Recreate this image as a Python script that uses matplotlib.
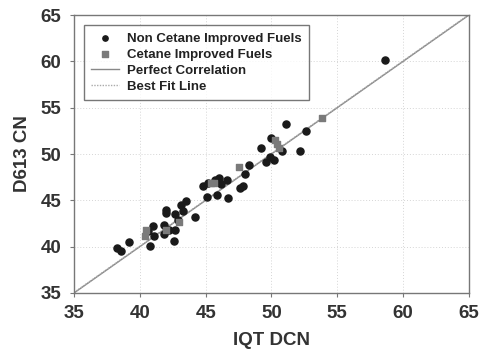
import numpy as np
import matplotlib.pyplot as plt

# IQT DCN vs D613 CN
non_ci_x = [58.6, 51.1, 52.6, 52.2, 50.0, 49.2, 49.6, 49.9, 50.2, 50.8, 48.3, 48.0,
            47.8, 47.6, 46.0, 46.6, 46.2, 44.8, 45.1, 45.9, 46.7, 43.5, 43.1, 43.3,
            42.0, 42.0, 42.7, 42.9, 44.2, 41.8, 42.2, 42.7, 41.8, 41.0, 41.1, 40.8,
            42.6, 39.2, 38.3, 38.6, 40.6, 45.2, 45.7]
non_ci_y = [60.1, 53.2, 52.5, 50.3, 51.7, 50.7, 49.1, 49.7, 49.3, 50.3, 48.8, 47.8,
            46.6, 46.3, 47.4, 47.2, 46.8, 46.6, 45.4, 45.6, 45.2, 44.9, 44.5, 43.8,
            44.0, 43.6, 43.5, 42.9, 43.2, 42.3, 41.8, 41.8, 41.4, 42.2, 41.1, 40.1,
            40.6, 40.5, 39.9, 39.5, 41.7, 46.9, 47.2]

ci_x = [53.8, 47.5, 50.4, 50.6, 50.3, 45.6, 45.4, 40.4, 40.5, 43.0, 42.0]
ci_y = [53.9, 48.6, 51.1, 50.6, 51.5, 46.9, 46.9, 41.2, 41.8, 42.7, 41.8]

axis_range = [35, 65]
fit_slope = 1.0
fit_intercept = 0.05

plt.rc('font', family='Liberation Sans', weight='bold')
fig = plt.figure(figsize=(4.81, 3.61), dpi=100)
ax = fig.add_axes([0.1538, 0.1884, 0.8212, 0.7700])

ax.grid(True, color='#d5d5d5', linestyle=(0, (1, 2)), linewidth=0.7)
ax.set_axisbelow(True)

xl = np.array(axis_range, dtype=float)
ax.plot(xl, xl, color='#888888', linewidth=1.0, label='Perfect Correlation', zorder=2)
ax.plot(xl, fit_slope * xl + fit_intercept, color='#aaaaaa', linewidth=1.0,
        linestyle=(0, (1, 1)), label='Best Fit Line', zorder=2)

ax.scatter(non_ci_x, non_ci_y, s=26, marker='o', color='#1a1a1a',
           label='Non Cetane Improved Fuels', zorder=3)
ax.scatter(ci_x, ci_y, s=24, marker='s', color='#7a7a7a',
           label='Cetane Improved Fuels', zorder=4)

ax.set_xlim(axis_range)
ax.set_ylim(axis_range)
ax.set_xticks(range(35, 66, 5))
ax.set_yticks(range(35, 66, 5))
ax.tick_params(direction='out', length=3, color='#777777', labelsize=13.5,
               labelcolor='#333333', pad=6)
for s in ax.spines.values():
    s.set_color('#777777')
    s.set_linewidth(1.0)

ax.set_xlabel('IQT DCN', fontsize=13.5, fontweight='bold', color='#333333', labelpad=7)
ax.set_ylabel('D613 CN', fontsize=13.5, fontweight='bold', color='#333333', labelpad=7)

handles, labels = ax.get_legend_handles_labels()
order = [2, 3, 0, 1]
leg = ax.legend([handles[i] for i in order], [labels[i] for i in order],
                loc='upper left', bbox_to_anchor=(0.025, 0.964), borderaxespad=0,
                fontsize=9.5, frameon=True, fancybox=False, handlelength=2.1,
                handletextpad=0.6, borderpad=0.55, labelspacing=0.3, markerscale=0.75)
leg.get_frame().set_edgecolor('#555555')
leg.get_frame().set_linewidth(1.0)
for t in leg.get_texts():
    t.set_color('#222222')

plt.savefig('out.png', dpi=100)
plt.close()
